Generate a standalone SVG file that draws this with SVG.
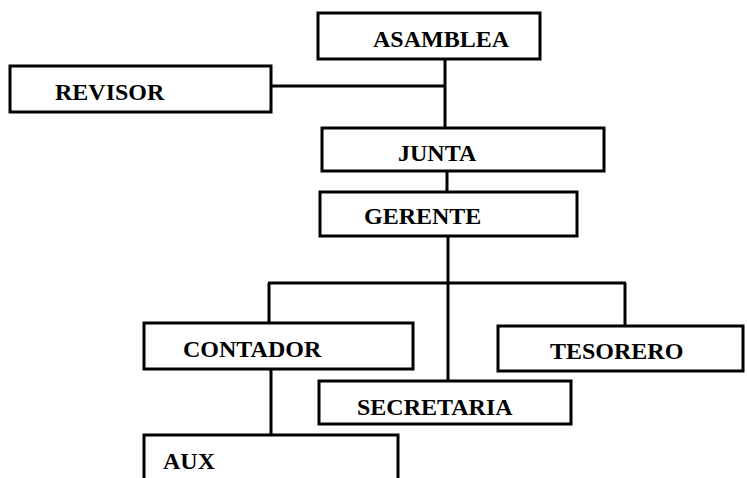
<svg xmlns="http://www.w3.org/2000/svg" width="747" height="478" viewBox="0 0 747 478">
<style>
.box{fill:#fff;stroke:#000;stroke-width:3}
.ln{stroke:#000;stroke-width:3;fill:none}
</style>
<rect width="747" height="478" fill="#fff"/>
<g id="connectors">
<line class="ln" x1="445" y1="59" x2="445" y2="128"/>
<line class="ln" x1="271" y1="86" x2="445" y2="86"/>
<line class="ln" x1="447" y1="171" x2="447" y2="192"/>
<line class="ln" x1="448" y1="236" x2="448" y2="381"/>
<line class="ln" x1="268" y1="283" x2="626" y2="283"/>
<line class="ln" x1="269" y1="283" x2="269" y2="323"/>
<line class="ln" x1="625" y1="283" x2="625" y2="326"/>
<line class="ln" x1="271" y1="369" x2="271" y2="435"/>
</g>
<g font-family="Liberation Serif, Times New Roman, serif" font-weight="bold" font-size="24" fill="#000">
<g id="asamblea"><rect class="box" x="318" y="13" width="222" height="46"/><text x="373" y="47">ASAMBLEA</text></g>
<g id="revisor"><rect class="box" x="10" y="66" width="261" height="46"/><text x="55" y="100">REVISOR</text></g>
<g id="junta"><rect class="box" x="322" y="128" width="282" height="43"/><text x="398" y="161">JUNTA</text></g>
<g id="gerente"><rect class="box" x="320" y="192" width="257" height="44"/><text x="364" y="224">GERENTE</text></g>
<g id="contador"><rect class="box" x="144" y="323" width="269" height="46"/><text x="183" y="357">CONTADOR</text></g>
<g id="tesorero"><rect class="box" x="498" y="326" width="245" height="45"/><text x="550" y="359">TESORERO</text></g>
<g id="secretaria"><rect class="box" x="319" y="381" width="252" height="43"/><text x="357" y="415">SECRETARIA</text></g>
<g id="aux"><rect class="box" x="144" y="435" width="254" height="60"/><text x="163" y="469">AUX</text></g>
</g>
</svg>
